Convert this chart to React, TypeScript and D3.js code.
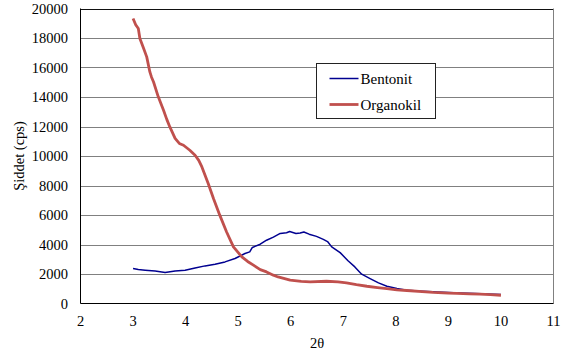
import React, { useEffect, useRef } from 'react';
import * as d3 from 'd3';

// 2θ, intensity (cps)
const bentonit: [number, number][] = [
  [3.0, 2370], [3.1, 2300], [3.23, 2260], [3.42, 2210], [3.61, 2100], [3.8, 2210],
  [3.99, 2260], [4.18, 2410], [4.37, 2550], [4.56, 2660], [4.75, 2820], [4.94, 3050],
  [5.13, 3390], [5.22, 3500], [5.27, 3800], [5.42, 4020], [5.54, 4290], [5.67, 4500],
  [5.8, 4750], [5.92, 4800], [5.98, 4880], [6.1, 4750], [6.18, 4780], [6.25, 4850],
  [6.35, 4700], [6.49, 4550], [6.62, 4350], [6.7, 4200], [6.78, 3840], [6.94, 3450],
  [7.09, 2900], [7.22, 2480], [7.35, 1990], [7.51, 1690], [7.67, 1400], [7.83, 1170],
  [8.02, 1010], [8.21, 900], [8.5, 830], [8.8, 780], [9.1, 730], [9.5, 680], [10.0, 610]
];

const organokil: [number, number][] = [
  [3.0, 19320], [3.05, 18900], [3.1, 18640], [3.13, 17970], [3.2, 17300], [3.26, 16720],
  [3.32, 15700], [3.35, 15360], [3.39, 15020], [3.48, 14010], [3.58, 13100], [3.64, 12500],
  [3.7, 11970], [3.8, 11190], [3.88, 10850], [3.96, 10730], [4.08, 10390], [4.18, 10050],
  [4.25, 9700], [4.31, 9260], [4.43, 8140], [4.53, 7120], [4.65, 5990], [4.78, 4850],
  [4.91, 3840], [5.07, 3160], [5.18, 2850], [5.29, 2600], [5.42, 2300], [5.54, 2140],
  [5.67, 1920], [5.76, 1800], [5.99, 1580], [6.2, 1500], [6.37, 1470], [6.68, 1510],
  [6.9, 1460], [7.06, 1400], [7.25, 1280], [7.45, 1170], [7.65, 1080], [7.83, 1010],
  [8.02, 930], [8.21, 880], [8.5, 800], [8.71, 750], [9.0, 710], [9.16, 680],
  [9.4, 650], [9.6, 630], [9.8, 600], [10.0, 560]
];

const xTicks = [2, 3, 4, 5, 6, 7, 8, 9, 10, 11];
const yTicks = [0, 2000, 4000, 6000, 8000, 10000, 12000, 14000, 16000, 18000, 20000];

const series = [
  { name: 'Bentonit', data: bentonit, color: '#000090', width: 1.5 },
  { name: 'Organokil', data: organokil, color: '#C0504D', width: 2.8 }
];

const W = 568;
const H = 353;
const font = "'Liberation Serif', Tinos, 'Times New Roman', 'DejaVu Serif', serif";

export default function App() {
  const ref = useRef<SVGSVGElement>(null);

  useEffect(() => {
    const svg = d3.select(ref.current);
    svg.selectAll('*').remove();

    const left = 80.5, right = 553.5, top = 8.5, bottom = 303.5;
    const x = d3.scaleLinear().domain([2, 11]).range([left, right]);
    const y = d3.scaleLinear().domain([0, 20000]).range([bottom, top]);

    const g = svg.append('g').style('font-family', font);

    // grid
    g.selectAll('line.grid')
      .data(yTicks.filter(t => t > 0))
      .enter()
      .append('line')
      .attr('x1', left)
      .attr('x2', right)
      .attr('y1', d => Math.round(y(d)) + 0.5)
      .attr('y2', d => Math.round(y(d)) + 0.5)
      .attr('stroke', d => (d === 20000 ? '#111' : '#808080'))
      .attr('stroke-width', 1);

    // right border
    g.append('line')
      .attr('x1', right).attr('x2', right)
      .attr('y1', top).attr('y2', bottom)
      .attr('stroke', '#808080');

    // axes
    g.append('line')
      .attr('x1', left).attr('x2', left)
      .attr('y1', top).attr('y2', bottom)
      .attr('stroke', '#000');
    g.append('line')
      .attr('x1', left).attr('x2', right)
      .attr('y1', bottom).attr('y2', bottom)
      .attr('stroke', '#000');

    // tick labels
    g.selectAll('text.y')
      .data(yTicks)
      .enter()
      .append('text')
      .attr('x', 68)
      .attr('y', d => y(d) + 5)
      .attr('text-anchor', 'end')
      .style('font-size', '14.5px')
      .attr('fill', '#000')
      .text(d => d);

    g.selectAll('text.x')
      .data(xTicks)
      .enter()
      .append('text')
      .attr('x', d => x(d))
      .attr('y', 326)
      .attr('text-anchor', 'middle')
      .style('font-size', '14.5px')
      .attr('fill', '#000')
      .text(d => d);

    // axis titles
    g.append('text')
      .attr('x', (left + right) / 2)
      .attr('y', 348)
      .attr('text-anchor', 'middle')
      .style('font-size', '14.5px')
      .text('2θ');
    g.append('text')
      .attr('transform', `translate(24 156) rotate(-90)`)
      .attr('text-anchor', 'middle')
      .style('font-size', '14.5px')
      .text('Şiddet (cps)');

    // lines
    const line = d3.line<[number, number]>()
      .x(d => x(d[0]))
      .y(d => y(d[1]));
    series.forEach(s => {
      g.append('path')
        .attr('d', line(s.data))
        .attr('fill', 'none')
        .attr('stroke', s.color)
        .attr('stroke-width', s.width)
        .attr('stroke-linejoin', 'round');
    });

    // legend
    const lg = g.append('g').attr('transform', 'translate(316.5 63.5)');
    lg.append('rect')
      .attr('width', 119)
      .attr('height', 55)
      .attr('fill', '#fff')
      .attr('stroke', '#222');
    series.forEach((s, i) => {
      const ly = 15 + i * 26;
      lg.append('line')
        .attr('x1', 13).attr('x2', 42)
        .attr('y1', ly).attr('y2', ly)
        .attr('stroke', s.color)
        .attr('stroke-width', s.width);
      lg.append('text')
        .attr('x', 44)
        .attr('y', ly + 5)
        .style('font-size', '15px')
        .text(s.name);
    });
  }, []);

  return (
    <svg
      ref={ref}
      width={W}
      height={H}
      style={{ position: 'absolute', left: 0, top: 0, background: '#fff' }}
    />
  );
}
